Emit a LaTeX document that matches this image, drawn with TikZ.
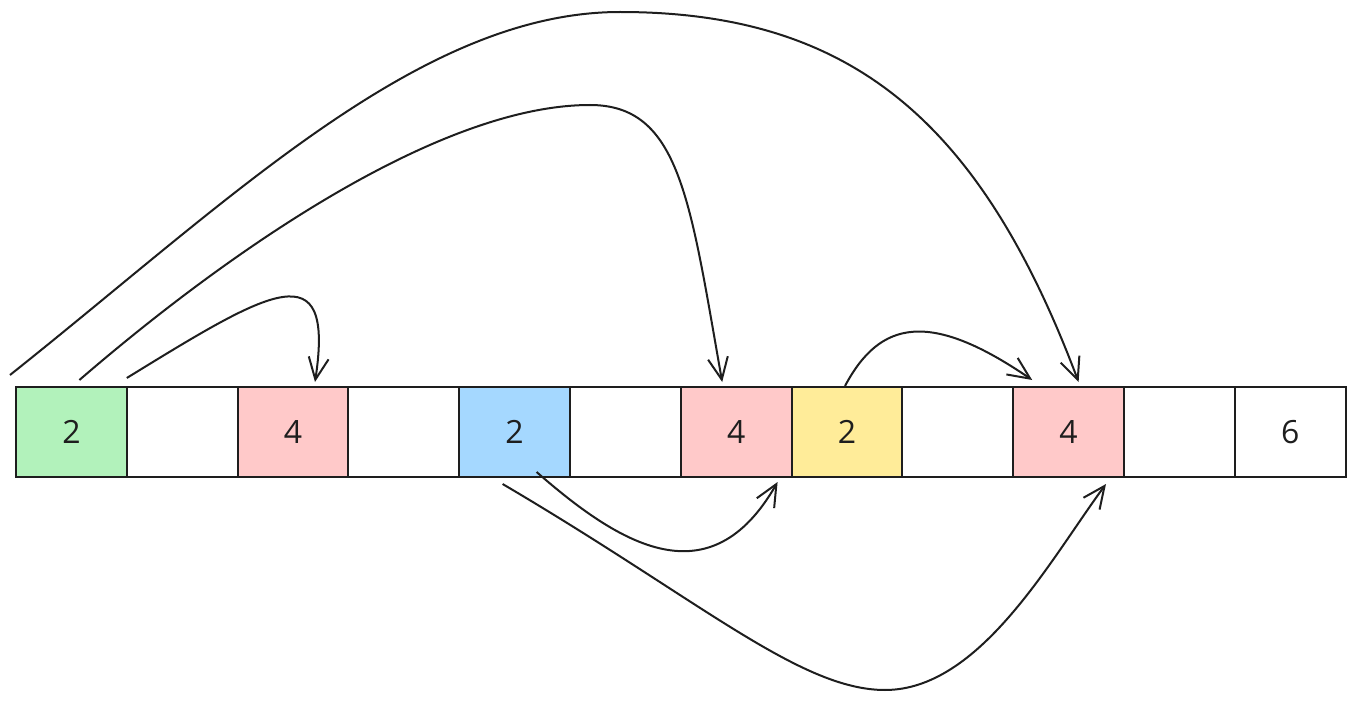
\documentclass[tikz,border=0pt]{standalone}
\usepackage{fontspec}
\setmainfont{Open Sans}
\usepackage{xcolor}
\usetikzlibrary{arrows.meta, positioning}

\definecolor{ink}{HTML}{1E1E1E}
\definecolor{cellgreen}{HTML}{B2F2BB}
\definecolor{cellred}{HTML}{FFC9C9}
\definecolor{cellblue}{HTML}{A5D8FF}
\definecolor{cellyellow}{HTML}{FFEC99}

\begin{document}
\begin{tikzpicture}[
    x=0.5pt, y=-0.5pt,
    node distance=0pt,
    every node/.style={font=\fontsize{16}{18}\selectfont, text=ink},
    cell/.style={
        draw=ink,
        line width=1pt,
        minimum width=55.4pt,
        minimum height=45pt,
        outer sep=0pt,
        inner sep=0pt,
        fill=white
    },
    arrow/.style={-{Straight Barb[length=11pt, width=10pt, line width=1pt]}, line width=1pt, draw=ink}
]
\useasboundingbox (0,0) rectangle (1356,701);

% the row of cells
\node[cell, fill=cellgreen] (c0) at (71.4,432) {2};
\node[cell, right=of c0] (c1) {};
\node[cell, fill=cellred, right=of c1] (c2) {4};
\node[cell, right=of c2] (c3) {};
\node[cell, fill=cellblue, right=of c3] (c4) {2};
\node[cell, right=of c4] (c5) {};
\node[cell, fill=cellred, right=of c5] (c6) {4};
\node[cell, fill=cellyellow, right=of c6] (c7) {2};
\node[cell, right=of c7] (c8) {};
\node[cell, fill=cellred, right=of c8] (c9) {4};
\node[cell, right=of c9] (c10) {};
\node[cell, right=of c10] (c11) {6};

% jumps above
\draw[arrow] ([shift={(-6,-12)}]c0.north west) .. controls (230,200) and (420,12) .. (620,12)
    .. controls (850,12) and (980,120) .. ([shift={(10,-5)}]c9.north);
\draw[arrow] ([shift={(8,-7)}]c0.north) .. controls (230,250) and (440,105) .. (590,105)
    .. controls (680,105) and (690,200) .. ([shift={(-14,-5)}]c6.north);
\draw[arrow] ([shift={(0,-9)}]c1.north west) .. controls (270,290) and (335,250) .. ([shift={(22,-5)}]c2.north);
\draw[arrow] ([shift={(-2,-1)}]c7.north) .. controls (880,320) and (930,310) .. ([shift={(19,-7)}]c9.north west);

% jumps below
\draw[arrow] ([shift={(22,-5)}]c4.south) .. controls (620,545) and (710,600) .. ([shift={(-14,5)}]c6.south east);
\draw[arrow] ([shift={(-12,7)}]c4.south) .. controls (700,600) and (800,690) .. (885,690)
    .. controls (980,690) and (1050,560) .. ([shift={(-18,7)}]c9.south east);

\end{tikzpicture}
\end{document}
